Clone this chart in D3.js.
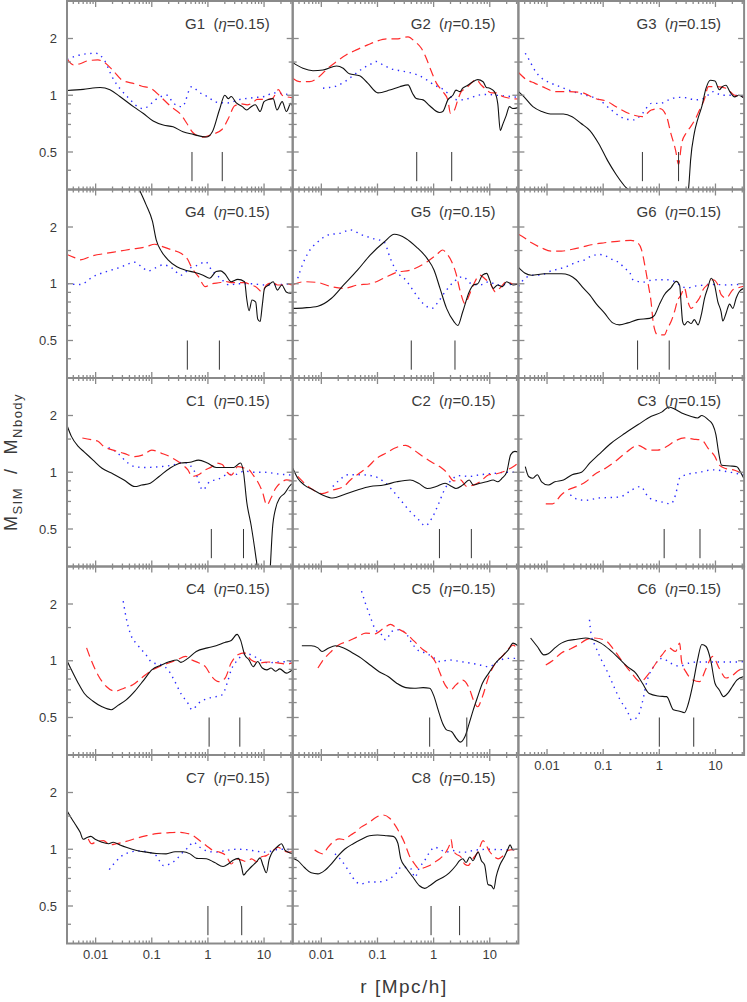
<!DOCTYPE html>
<html>
<head>
<meta charset="utf-8">
<script src="https://cdn.jsdelivr.net/npm/d3@7"></script>
<style>
  body { margin: 0; background: #fff; }
  svg { display: block; }
  text { font-family: "Liberation Sans", Arial, sans-serif; fill: #3a3a3a; }
</style>
</head>
<body>
<svg id="chart" width="747" height="1002"></svg>
<script>
// ---- data: [r (Mpc/h), M_SIM / M_Nbody] ----
const panelNames = ['G1', 'G2', 'G3', 'G4', 'G5', 'G6', 'C1', 'C2', 'C3', 'C4', 'C5', 'C6', 'C7', 'C8'];

// the two short vertical markers in each panel (r values)
const markerR = [[0.52, 1.8], [0.5, 2.1], [0.5, 2.2], [0.43, 1.6], [0.4, 2.4], [0.41, 1.5],
  [1.15, 4.3], [1.27, 4.7], [1.22, 5.3], [1.05, 3.7], [0.85, 3.9], [1.0, 4.1], [1.0, 4.0], [0.9, 2.9]];

const xTickLabels = [0.01, 0.1, 1, 10];
const yTickLabels = [0.5, 1, 2];
const yMinorTicks = [0.4, 0.6, 0.7, 0.8, 0.9, 1.5];

const g1Black = [[0.0031,1.06],[0.006,1.075],[0.012,1.10],[0.018,1.07],[0.027,0.985],[0.047,0.87],[0.071,0.80],[0.106,0.73],[0.16,0.695],[0.24,0.68],[0.36,0.64],[0.55,0.62],[0.94,0.60],[1.2,0.64],[1.6,0.835],[2.0,1.0],[2.3,0.96],[2.6,0.985],[3.2,0.91],[4.1,0.87],[4.9,0.835],[5.9,0.87],[7.0,0.89],[8.5,0.82],[10,0.925],[12,0.95],[14.5,0.96],[17,0.835],[21,0.925],[25,0.82],[30,0.905],[32,0.88]];
const g1Red = [[0.0031,1.56],[0.004,1.45],[0.0053,1.47],[0.007,1.52],[0.011,1.54],[0.014,1.50],[0.02,1.36],[0.03,1.20],[0.045,1.16],[0.065,1.12],[0.1,1.08],[0.14,0.99],[0.22,0.87],[0.33,0.79],[0.42,0.71],[0.55,0.63],[0.8,0.60],[1.2,0.62],[1.8,0.66],[2.3,0.75],[3,0.88],[4,0.9],[5,0.89],[6.5,0.92],[7.5,0.95],[10,0.95],[14,0.96],[18,1.07],[21,1.0],[26,0.98],[32,0.97]];
const g1Blue = [[0.0031,1.55],[0.0046,1.62],[0.007,1.66],[0.01,1.67],[0.014,1.55],[0.02,1.24],[0.037,0.98],[0.069,0.85],[0.14,0.98],[0.19,1.0],[0.24,0.91],[0.35,0.87],[0.51,1.11],[0.72,1.03],[1,0.98],[1.4,0.92],[2.2,0.91],[3.7,0.95],[6.3,0.97],[11,0.99],[14,1.03],[21,1.02],[32,1.0]];

const g2Black = [[0.0031,1.49],[0.0047,1.39],[0.0071,1.35],[0.0107,1.36],[0.0187,1.43],[0.0245,1.39],[0.0315,1.30],[0.048,1.27],[0.067,1.16],[0.102,1.03],[0.165,1.065],[0.25,1.11],[0.35,1.135],[0.42,1.025],[0.49,0.96],[0.65,0.945],[0.85,0.88],[1.27,0.81],[1.46,0.82],[1.79,0.945],[2.2,1.0],[2.5,1.065],[2.95,1.045],[3.3,1.09],[4.05,1.13],[5.0,1.18],[6.1,1.21],[7.6,1.18],[8.7,1.10],[10,1.09],[12.1,1.045],[13.9,0.9],[15.4,0.65],[17,0.70],[19.6,0.78],[22.4,0.87],[25.7,0.85],[32,0.86]];
const g2Red = [[0.0031,1.23],[0.0041,1.18],[0.0062,1.18],[0.0093,1.26],[0.013,1.39],[0.0187,1.51],[0.028,1.64],[0.042,1.74],[0.067,1.85],[0.095,1.93],[0.145,1.99],[0.215,1.99],[0.35,2.04],[0.46,1.93],[0.6,1.78],[0.74,1.57],[0.91,1.34],[1.12,1.16],[1.46,1.045],[1.79,0.945],[2.0,0.80],[2.35,0.835],[2.7,0.945],[3.1,1.045],[3.8,1.09],[4.7,1.16],[5.7,1.21],[7.1,1.13],[8.7,1.07],[10.7,1.03],[13.2,1.03],[17,0.985],[22.4,0.965],[32,0.955]];
const g2Blue = [[0.0107,1.09],[0.014,1.10],[0.0187,1.12],[0.026,1.18],[0.034,1.25],[0.042,1.31],[0.055,1.39],[0.072,1.45],[0.095,1.51],[0.125,1.45],[0.165,1.39],[0.25,1.35],[0.37,1.32],[0.52,1.28],[0.74,1.21],[1.04,1.13],[1.36,1.09],[1.79,1.025],[2.35,0.95],[3.1,0.945],[4.4,0.965],[6.1,1.0],[8.7,1.01],[13.2,1.0],[19.6,0.99],[32,0.975]];

const g3Black = [[0.0031,1.045],[0.0039,0.98],[0.0056,0.87],[0.008,0.82],[0.0115,0.795],[0.0195,0.795],[0.028,0.77],[0.04,0.71],[0.058,0.65],[0.083,0.555],[0.12,0.45],[0.17,0.38],[0.24,0.33],[0.32,0.30],[0.42,0.2],[3.0,0.2],[3.2,0.28],[3.4,0.35],[3.6,0.45],[4.2,0.63],[4.8,0.74],[5.7,0.87],[6.8,1.09],[8.1,1.2],[9.8,1.19],[11.7,1.07],[13.2,1.11],[15.4,1.13],[18,1.045],[22,0.98],[26,1.0],[32,0.965]];
const g3Red = [[0.0031,1.32],[0.0043,1.21],[0.006,1.16],[0.0095,1.09],[0.0138,1.045],[0.0235,1.045],[0.041,1.035],[0.069,0.965],[0.12,0.925],[0.17,0.87],[0.29,0.80],[0.50,0.77],[0.72,0.835],[1.03,0.85],[1.35,0.77],[1.6,0.63],[1.95,0.51],[2.2,0.43],[2.5,0.555],[3.0,0.63],[3.6,0.68],[4.3,0.74],[5.2,0.835],[6.3,0.945],[7.5,1.11],[10.7,1.11],[15.4,1.09],[22,1.0],[32,0.985]];
const g3Blue = [[0.0041,1.67],[0.0048,1.54],[0.0062,1.34],[0.0081,1.23],[0.0117,1.16],[0.017,1.11],[0.029,1.045],[0.05,1.0],[0.085,0.945],[0.14,0.835],[0.245,0.75],[0.35,0.74],[0.5,0.80],[0.72,0.905],[1.03,0.905],[1.48,0.945],[2.1,0.975],[3.0,0.97],[4.3,0.945],[6.3,0.965],[9.1,1.045],[13,1.0],[18.6,1.0],[32,0.99]];

const g4Black = [[0.045,3.8],[0.06,3.16],[0.079,2.63],[0.103,2.14],[0.12,1.71],[0.15,1.48],[0.195,1.34],[0.28,1.23],[0.40,1.18],[0.57,1.15],[0.82,1.11],[1.07,1.07],[1.4,1.16],[1.67,1.17],[2.0,1.13],[2.6,1.025],[3.4,1.055],[4.5,1.025],[4.9,0.835],[5.4,0.72],[6.1,0.82],[7.1,0.80],[7.7,0.65],[8.5,0.63],[9.3,0.77],[10.2,0.945],[12.1,0.985],[14.5,1.025],[17.3,0.925],[20.7,0.985],[24.8,0.905],[29.5,0.89],[32,0.9]];
const g4Red = [[0.0031,1.43],[0.0041,1.38],[0.0053,1.34],[0.009,1.41],[0.0155,1.45],[0.027,1.49],[0.046,1.53],[0.079,1.57],[0.113,1.62],[0.16,1.57],[0.23,1.51],[0.33,1.45],[0.44,1.34],[0.52,1.21],[0.68,1.09],[0.9,0.965],[1.17,1.0],[1.67,1.015],[2.0,1.03],[2.6,1.015],[3.4,1.015],[4.5,1.015],[5.9,0.985],[7.1,0.965],[9.3,0.905],[11,0.985],[14.5,1.015],[17.3,0.985],[20.7,0.985],[24.8,1.0],[32,0.985]];
const g4Blue = [[0.0031,1.0],[0.0053,0.99],[0.009,1.09],[0.0155,1.16],[0.027,1.22],[0.05,1.30],[0.066,1.23],[0.087,1.17],[0.113,1.21],[0.16,1.26],[0.23,1.21],[0.33,1.11],[0.48,1.21],[0.68,1.26],[0.9,1.31],[1.17,1.18],[1.67,1.07],[2.4,0.985],[3.4,1.0],[5.9,1.0],[10.2,0.985],[17.3,0.99],[32,1.0]];

const g5Black = [[0.0031,0.74],[0.005,0.745],[0.0087,0.76],[0.015,0.835],[0.025,0.985],[0.044,1.18],[0.074,1.42],[0.13,1.66],[0.20,1.83],[0.32,1.74],[0.49,1.57],[0.77,1.36],[1.02,1.18],[1.3,0.945],[1.7,0.74],[2.3,0.63],[2.7,0.60],[3.3,0.71],[4.3,0.905],[5.1,0.985],[6.1,1.0],[7.4,1.11],[8.8,1.135],[10,1.045],[11.5,0.945],[13.8,0.985],[16.6,0.965],[20,1.025],[26,0.985],[32,1.0]];
const g5Red = [[0.0031,0.99],[0.005,1.025],[0.0087,1.015],[0.015,0.965],[0.025,0.945],[0.044,0.985],[0.074,1.0],[0.13,1.07],[0.22,1.15],[0.38,1.18],[0.54,1.23],[0.77,1.31],[1.11,1.42],[1.45,1.51],[1.7,1.45],[2.1,1.31],[2.5,1.135],[3.0,0.905],[3.6,0.785],[4.3,0.87],[5.1,0.985],[6.7,1.11],[8,1.07],[10.5,0.985],[12.6,0.905],[15,0.945],[20,1.025],[26,1.0],[32,1.0]];
const g5Blue = [[0.0038,1.07],[0.0046,1.26],[0.006,1.48],[0.0087,1.67],[0.0136,1.82],[0.021,1.85],[0.033,1.93],[0.052,1.82],[0.082,1.74],[0.13,1.67],[0.17,1.36],[0.22,1.16],[0.32,1.045],[0.45,0.905],[0.65,0.785],[0.93,0.74],[1.2,0.80],[1.6,0.905],[2.3,1.025],[3.3,1.09],[4.7,1.0],[6.7,0.985],[9.6,1.025],[13.8,0.985],[20,0.99],[32,0.995]];

const g6Black = [[0.0031,1.22],[0.004,1.14],[0.0053,1.11],[0.0091,1.13],[0.018,1.13],[0.025,1.11],[0.033,1.05],[0.044,0.95],[0.058,0.87],[0.076,0.78],[0.105,0.70],[0.148,0.62],[0.195,0.605],[0.275,0.62],[0.41,0.645],[0.67,0.655],[0.82,0.68],[1.0,0.775],[1.23,0.875],[1.62,0.955],[2.0,1.03],[2.3,0.98],[2.45,0.775],[2.6,0.63],[2.8,0.605],[3.2,0.63],[3.7,0.615],[4.2,0.645],[4.9,0.605],[5.6,0.685],[6.4,0.84],[7.3,0.95],[8.4,1.07],[9.6,0.99],[11,0.805],[12.6,0.71],[13.5,0.635],[15.5,0.70],[17.8,0.78],[20.4,0.74],[23.4,0.84],[26.7,0.91],[32,0.945]];
const g6Red = [[0.0031,1.83],[0.004,1.75],[0.0053,1.65],[0.008,1.55],[0.0118,1.49],[0.018,1.49],[0.027,1.52],[0.041,1.56],[0.061,1.61],[0.105,1.65],[0.18,1.68],[0.31,1.70],[0.41,1.65],[0.48,1.52],[0.55,1.26],[0.62,1.03],[0.71,0.81],[0.79,0.605],[0.93,0.535],[1.23,0.535],[1.4,0.58],[1.62,0.63],[1.86,0.71],[2.1,0.81],[2.45,0.875],[2.8,0.95],[3.2,0.81],[3.7,0.74],[4.5,0.79],[5.2,0.84],[6.0,0.93],[7.3,0.99],[9.0,1.05],[11,0.99],[12.6,0.875],[15.5,0.84],[20.4,0.93],[25,0.95],[32,0.97]];
const g6Blue = [[0.0031,0.97],[0.004,1.065],[0.0057,1.11],[0.008,1.115],[0.0118,1.17],[0.0165,1.20],[0.0233,1.24],[0.033,1.30],[0.047,1.34],[0.061,1.40],[0.086,1.43],[0.113,1.40],[0.148,1.34],[0.195,1.29],[0.24,1.21],[0.30,1.14],[0.34,1.05],[0.41,1.03],[0.51,1.02],[0.67,1.04],[0.95,1.05],[1.32,1.05],[1.86,1.03],[2.45,0.97],[3.2,0.95],[4.2,0.97],[5.6,0.98],[7.3,0.99],[11,0.99],[16.6,0.985],[25,0.99],[32,0.99]];

const c1Black = [[0.0031,1.77],[0.0037,1.55],[0.0049,1.37],[0.0063,1.28],[0.009,1.16],[0.013,1.05],[0.0205,0.98],[0.032,0.91],[0.05,0.84],[0.066,0.855],[0.094,0.875],[0.135,0.95],[0.21,1.05],[0.33,1.12],[0.48,1.13],[0.68,1.16],[0.98,1.12],[1.4,1.06],[2.0,1.06],[2.9,1.06],[3.8,1.12],[4.3,1.0],[4.9,0.70],[5.9,0.52],[7.1,0.36],[7.7,0.30],[8.5,0.2],[11.7,0.2],[12.8,0.3],[14.1,0.5],[16,0.64],[19,0.73],[23,0.77],[29.5,0.855],[32,0.87]];
const c1Red = [[0.0058,1.52],[0.0083,1.49],[0.011,1.46],[0.014,1.37],[0.0205,1.31],[0.032,1.26],[0.05,1.21],[0.072,1.24],[0.10,1.31],[0.15,1.26],[0.21,1.21],[0.28,1.15],[0.36,1.09],[0.44,1.03],[0.52,0.95],[0.68,0.97],[0.9,1.03],[1.17,1.07],[1.4,1.12],[1.8,1.10],[2.2,1.0],[2.6,0.965],[3.4,1.07],[4.5,1.05],[5.4,1.03],[6.4,0.965],[7.7,0.89],[9.3,0.79],[11.2,0.67],[13.3,0.73],[16,0.82],[21,0.89],[25,0.91],[32,0.90]];
const c1Blue = [[0.017,1.35],[0.025,1.26],[0.035,1.14],[0.05,1.07],[0.079,1.06],[0.135,1.07],[0.23,1.09],[0.36,1.13],[0.48,1.09],[0.62,0.97],[0.81,0.805],[1.07,0.89],[1.55,0.92],[2.2,0.97],[3.2,0.975],[4.5,1.015],[6.4,1.0],[10.2,1.0],[17.3,0.98],[32,0.965]];

const c2Black = [[0.0031,1.05],[0.0038,0.93],[0.005,0.855],[0.0072,0.805],[0.0103,0.76],[0.016,0.73],[0.025,0.76],[0.044,0.805],[0.074,0.84],[0.13,0.855],[0.22,0.89],[0.38,0.91],[0.54,0.875],[0.77,0.82],[1.11,0.84],[1.6,0.875],[2.1,0.84],[2.5,0.82],[3.3,0.855],[4.3,0.91],[5.1,0.855],[6.7,0.875],[8.8,0.89],[11.5,0.91],[13.8,0.89],[16.6,0.93],[20,1.0],[23.6,1.24],[28,1.29],[32,1.28]];
const c2Red = [[0.0038,0.95],[0.005,0.875],[0.0072,0.805],[0.0103,0.77],[0.016,0.805],[0.025,0.84],[0.033,0.91],[0.048,0.99],[0.068,1.07],[0.098,1.19],[0.14,1.26],[0.20,1.34],[0.32,1.39],[0.45,1.31],[0.65,1.21],[0.93,1.13],[1.3,1.07],[1.7,1.0],[2.3,0.90],[3.0,0.91],[3.9,0.84],[5.1,0.855],[6.7,0.89],[9.6,0.97],[13.8,0.985],[20,1.025],[26,1.07],[32,1.12]];
const c2Blue = [[0.016,0.84],[0.021,0.91],[0.03,0.97],[0.052,0.97],[0.089,0.95],[0.13,0.89],[0.18,0.81],[0.26,0.71],[0.38,0.62],[0.54,0.56],[0.71,0.52],[0.93,0.57],[1.2,0.67],[1.6,0.82],[2.1,0.91],[2.7,0.96],[4.3,0.95],[6.7,0.97],[11.5,0.985],[20,1.0],[32,1.0]];

const c3Black = [[0.0041,1.07],[0.0047,0.95],[0.0056,0.93],[0.0067,0.97],[0.008,0.89],[0.0105,0.855],[0.0138,0.89],[0.0196,0.91],[0.028,0.97],[0.041,1.0],[0.058,1.12],[0.083,1.24],[0.14,1.43],[0.245,1.61],[0.42,1.79],[0.72,1.98],[1.12,2.09],[1.48,2.22],[1.95,2.15],[2.5,2.06],[3.6,1.98],[4.8,1.94],[5.7,2.0],[7.4,1.90],[8.9,1.79],[10.2,1.58],[11.3,1.29],[12.9,1.09],[18.3,1.08],[24,1.07],[28.8,0.985],[32,0.93]];
const c3Red = [[0.0095,0.68],[0.0125,0.68],[0.018,0.76],[0.0235,0.805],[0.034,0.84],[0.049,0.89],[0.069,0.97],[0.11,1.05],[0.17,1.15],[0.27,1.29],[0.42,1.39],[0.65,1.31],[0.93,1.31],[1.35,1.37],[1.95,1.47],[2.8,1.52],[4.0,1.50],[5.7,1.48],[7.4,1.34],[9.8,1.21],[11.7,1.09],[15.4,1.045],[22,1.025],[32,0.97]];
const c3Blue = [[0.026,0.76],[0.034,0.72],[0.049,0.71],[0.083,0.73],[0.14,0.735],[0.20,0.74],[0.32,0.805],[0.46,0.84],[0.66,0.73],[1.03,0.70],[1.6,0.68],[1.95,0.76],[2.3,0.93],[3.0,0.97],[5.2,1.0],[8.9,1.03],[15.4,1.01],[22,0.99],[32,0.97]];

const c4Black = [[0.0031,1.0],[0.0037,0.895],[0.0049,0.76],[0.0063,0.67],[0.009,0.61],[0.013,0.57],[0.019,0.55],[0.025,0.58],[0.035,0.62],[0.05,0.69],[0.072,0.79],[0.10,0.895],[0.15,0.95],[0.21,0.99],[0.28,1.01],[0.33,0.98],[0.44,1.03],[0.62,1.12],[0.98,1.17],[1.4,1.20],[2.0,1.25],[2.6,1.28],[3.3,1.38],[3.8,1.29],[4.5,1.08],[5.4,1.01],[6.4,0.93],[7.7,0.99],[9.3,0.915],[11.2,0.895],[13.3,0.915],[16,0.88],[19,0.905],[25,0.86],[32,0.895]];
const c4Red = [[0.0069,1.17],[0.0083,1.01],[0.011,0.84],[0.0155,0.73],[0.022,0.69],[0.032,0.715],[0.046,0.745],[0.066,0.81],[0.094,0.88],[0.135,0.93],[0.195,0.97],[0.28,1.01],[0.40,1.055],[0.52,1.01],[0.68,0.975],[0.9,0.93],[1.17,0.825],[1.55,0.775],[2.0,0.805],[2.6,0.975],[3.4,1.075],[4.5,1.10],[5.9,1.01],[8.5,0.975],[12,0.985],[17.3,0.975],[25,0.96],[32,0.975]];
const c4Blue = [[0.031,2.07],[0.035,1.69],[0.042,1.38],[0.055,1.22],[0.079,1.075],[0.10,0.98],[0.15,0.95],[0.195,0.895],[0.25,0.79],[0.33,0.67],[0.44,0.595],[0.52,0.55],[0.68,0.595],[0.98,0.63],[1.4,0.645],[1.8,0.66],[2.2,0.76],[2.6,0.895],[3.4,1.01],[4.5,1.09],[5.9,1.075],[8.5,1.01],[12,0.975],[17.3,0.985],[32,0.99]];

const c5Black = [[0.0045,1.20],[0.0066,1.20],[0.0087,1.17],[0.0103,1.12],[0.0136,1.17],[0.0177,1.20],[0.025,1.17],[0.036,1.10],[0.052,1.03],[0.074,0.95],[0.107,0.875],[0.155,0.825],[0.22,0.76],[0.32,0.72],[0.45,0.715],[0.65,0.72],[0.85,0.715],[1.02,0.645],[1.2,0.55],[1.45,0.465],[1.7,0.43],[2.1,0.42],[2.5,0.39],[3.0,0.37],[3.6,0.395],[4.3,0.465],[5.1,0.55],[6.1,0.645],[7.4,0.76],[9.6,0.86],[12.6,0.97],[16.6,1.055],[21.6,1.145],[26,1.24],[32,1.20]];
const c5Red = [[0.0087,0.915],[0.0103,0.99],[0.015,1.12],[0.021,1.22],[0.03,1.27],[0.044,1.34],[0.062,1.40],[0.089,1.39],[0.13,1.49],[0.17,1.56],[0.22,1.49],[0.32,1.40],[0.45,1.27],[0.65,1.145],[0.85,1.08],[1.11,0.97],[1.3,0.86],[1.6,0.745],[2.0,0.70],[2.5,0.745],[3.3,0.79],[4.3,0.715],[5.1,0.62],[6.1,0.57],[7.4,0.645],[9.6,0.825],[12.6,0.97],[16.6,1.055],[21.6,1.16],[26,1.21],[32,1.14]];
const c5Blue = [[0.052,2.34],[0.062,1.99],[0.074,1.72],[0.089,1.49],[0.117,1.38],[0.14,1.29],[0.18,1.43],[0.24,1.46],[0.32,1.40],[0.41,1.24],[0.54,1.13],[0.71,1.10],[0.93,1.055],[1.3,0.99],[1.9,1.01],[3.0,0.99],[4.7,0.97],[6.7,0.95],[9.6,0.93],[13.8,0.99],[20,1.03],[28,1.03],[32,1.03]];

const c6Black = [[0.0051,1.32],[0.0067,1.19],[0.0088,1.075],[0.0105,1.09],[0.0138,1.17],[0.018,1.24],[0.0235,1.28],[0.034,1.30],[0.049,1.32],[0.063,1.30],[0.091,1.24],[0.13,1.145],[0.19,1.03],[0.27,0.93],[0.38,0.86],[0.50,0.76],[0.66,0.67],[0.95,0.65],[1.35,0.645],[1.78,0.55],[2.3,0.54],[2.8,0.53],[3.3,0.595],[4.0,0.76],[4.8,1.01],[5.7,1.22],[6.8,1.19],[8.2,1.01],[9.8,0.76],[11.7,0.70],[14,0.645],[16.8,0.675],[20,0.73],[24,0.79],[32,0.825]];
const c6Red = [[0.0095,0.95],[0.0125,1.0],[0.018,1.10],[0.026,1.155],[0.037,1.22],[0.049,1.29],[0.069,1.32],[0.11,1.28],[0.155,1.145],[0.22,0.99],[0.32,0.86],[0.46,0.775],[0.66,0.86],[0.87,0.97],[1.12,1.075],[1.48,1.17],[1.95,1.12],[2.3,1.24],[2.5,0.985],[3.0,0.87],[4.0,0.79],[5.2,0.775],[6.8,0.91],[8.9,1.055],[11.7,0.91],[15.4,0.81],[20,0.835],[26,0.89],[32,0.905]];
const c6Blue = [[0.057,1.65],[0.061,1.38],[0.073,1.19],[0.093,1.01],[0.122,0.86],[0.155,0.73],[0.20,0.62],[0.27,0.54],[0.32,0.485],[0.41,0.505],[0.49,0.59],[0.61,0.79],[0.8,0.935],[1.12,1.03],[1.6,0.97],[2.3,0.935],[3.3,0.97],[4.8,0.985],[7.4,0.985],[13,0.985],[22,0.985],[32,0.99]];

const c7Black = [[0.0031,1.6],[0.0035,1.50],[0.0043,1.36],[0.0053,1.23],[0.006,1.13],[0.0069,1.15],[0.0082,1.17],[0.0098,1.13],[0.0129,1.09],[0.017,1.07],[0.0205,1.09],[0.027,1.055],[0.035,1.025],[0.054,0.985],[0.081,0.965],[0.12,0.95],[0.18,0.945],[0.26,0.97],[0.36,0.97],[0.48,0.945],[0.63,0.895],[0.94,0.89],[1.32,0.85],[1.86,0.81],[2.3,0.835],[2.8,0.875],[3.5,0.895],[4.0,0.80],[4.3,0.73],[4.9,0.76],[6.0,0.81],[7.4,0.86],[8.5,0.90],[9.6,0.82],[11,0.75],[12.3,0.88],[13.5,0.945],[15.5,1.0],[17.8,1.04],[20.4,1.07],[23.5,0.99],[27,0.965],[32,0.95]];
const c7Red = [[0.0074,1.135],[0.0085,1.07],[0.0105,1.10],[0.0138,1.11],[0.018,1.055],[0.0235,1.07],[0.035,1.10],[0.054,1.145],[0.081,1.18],[0.12,1.21],[0.18,1.22],[0.28,1.23],[0.39,1.22],[0.55,1.18],[0.72,1.11],[0.94,1.045],[1.23,0.985],[1.6,0.965],[2.1,0.925],[2.6,0.835],[3.2,0.89],[4.0,0.875],[4.9,0.86],[6.0,0.89],[7.4,0.86],[8.9,0.91],[11,0.925],[14.5,0.985],[17.8,1.025],[22,0.985],[27,0.965],[32,0.97]];
const c7Blue = [[0.0175,0.78],[0.022,0.85],[0.029,0.92],[0.041,0.965],[0.061,0.98],[0.087,0.965],[0.12,0.925],[0.16,0.82],[0.21,0.835],[0.28,0.89],[0.36,0.965],[0.45,1.025],[0.55,1.09],[0.72,1.025],[1.0,0.975],[1.4,0.965],[2.1,0.985],[3.2,1.0],[4.9,0.995],[7.4,0.975],[11,0.965],[14.5,0.985],[19,1.0],[32,0.995]];

const c8Black = [[0.0031,0.895],[0.0038,0.87],[0.005,0.80],[0.0066,0.75],[0.0087,0.74],[0.0114,0.77],[0.015,0.835],[0.02,0.925],[0.026,1.0],[0.037,1.07],[0.051,1.125],[0.072,1.18],[0.10,1.19],[0.145,1.18],[0.19,1.17],[0.23,1.08],[0.26,0.89],[0.32,0.80],[0.43,0.71],[0.56,0.64],[0.69,0.62],[0.85,0.64],[1.12,0.68],[1.48,0.71],[1.9,0.75],[2.5,0.82],[2.9,0.87],[3.3,0.89],[3.8,0.85],[4.4,0.91],[5.0,0.87],[6.2,0.965],[7.1,0.87],[8.1,0.825],[9.3,0.65],[10.7,0.64],[11.8,0.615],[13,0.715],[15,0.82],[18.3,0.915],[21,1.0],[23,1.055],[25.7,0.995],[29.5,1.0],[32,1.0]];
const c8Red = [[0.0076,0.99],[0.0107,0.945],[0.013,1.02],[0.016,1.09],[0.021,1.135],[0.026,1.125],[0.032,1.18],[0.04,1.23],[0.051,1.31],[0.072,1.39],[0.095,1.48],[0.126,1.52],[0.165,1.46],[0.20,1.36],[0.245,1.23],[0.30,1.09],[0.37,0.925],[0.46,0.835],[0.56,0.785],[0.69,0.80],[0.85,0.82],[1.05,0.855],[1.29,0.89],[1.67,0.97],[1.9,1.045],[2.05,1.125],[2.2,0.99],[2.5,0.945],[3.1,0.905],[3.55,0.835],[4.1,0.82],[5.0,0.89],[6.2,0.97],[7.6,1.11],[8.7,1.045],[10,0.97],[11.5,0.925],[14.1,0.89],[17.4,0.925],[21,0.985],[25.7,0.995],[32,0.985]];
const c8Blue = [[0.0175,0.945],[0.023,0.87],[0.028,0.80],[0.035,0.72],[0.042,0.67],[0.051,0.655],[0.068,0.67],[0.095,0.67],[0.135,0.68],[0.18,0.71],[0.22,0.75],[0.26,0.80],[0.32,0.80],[0.40,0.785],[0.46,0.71],[0.56,0.80],[0.69,0.87],[0.85,0.965],[1.05,1.025],[1.29,1.0],[1.67,0.965],[2.2,0.985],[2.9,0.965],[3.8,0.965],[5.0,0.985],[6.6,0.995],[10,1.0],[15,0.995],[22,0.995],[32,1.0]];

const blackSeries = [g1Black, g2Black, g3Black, g4Black, g5Black, g6Black, c1Black, c2Black, c3Black, c4Black, c5Black, c6Black, c7Black, c8Black];
const redSeries = [g1Red, g2Red, g3Red, g4Red, g5Red, g6Red, c1Red, c2Red, c3Red, c4Red, c5Red, c6Red, c7Red, c8Red];
const blueSeries = [g1Blue, g2Blue, g3Blue, g4Blue, g5Blue, g6Blue, c1Blue, c2Blue, c3Blue, c4Blue, c5Blue, c6Blue, c7Blue, c8Blue];

// ---- layout ----
const left0 = 67, top0 = 1;
const pw = 225.7, ph = 188.5;
const frameColor = '#8a8a8a';

const x = d3.scaleLog().domain([Math.pow(10, -2.51), Math.pow(10, 1.51)]).range([0, pw]);
const y = d3.scaleLog().domain([Math.pow(10, -0.5), Math.pow(10, 0.5)]).range([ph, 0]);

const svg = d3.select('#chart');

const line = d3.line()
  .x(d => x(d[0]))
  .y(d => y(d[1]))
  .curve(d3.curveMonotoneX);

const styles = [
  { data: blueSeries, color: '#2a2aff', width: 1.4, dash: '1.4,4.6' },
  { data: redSeries, color: '#ff2a2a', width: 1.2, dash: '9,5' },
  { data: blackSeries, color: '#111', width: 1.1, dash: null }
];

panelNames.forEach((name, i) => {
  const col = i % 3, row = Math.floor(i / 3);
  const g = svg.append('g')
    .attr('transform', `translate(${left0 + col * pw},${top0 + row * ph})`);

  svg.append('clipPath').attr('id', 'clip' + i)
    .append('rect').attr('width', pw).attr('height', ph);

  const plot = g.append('g').attr('clip-path', `url(#clip${i})`);

  styles.forEach(s => {
    plot.append('path')
      .datum(s.data[i])
      .attr('d', line)
      .attr('fill', 'none')
      .attr('stroke', s.color)
      .attr('stroke-width', s.width)
      .attr('stroke-dasharray', s.dash)
      .attr('stroke-linejoin', 'round');
  });

  // short vertical markers
  g.selectAll('.marker')
    .data(markerR[i])
    .join('line')
    .attr('x1', d => x(d)).attr('x2', d => x(d))
    .attr('y1', y(0.35)).attr('y2', y(0.5))
    .attr('stroke', '#333').attr('stroke-width', 1);

  // ticks on all four sides, pointing inward
  const xt = x.ticks();
  xt.forEach(t => {
    const major = Math.abs(Math.log10(t) - Math.round(Math.log10(t))) < 1e-6;
    const len = major ? 6 : 3;
    g.append('line').attr('x1', x(t)).attr('x2', x(t)).attr('y1', ph).attr('y2', ph - len)
      .attr('stroke', frameColor).attr('stroke-width', 1.3);
    g.append('line').attr('x1', x(t)).attr('x2', x(t)).attr('y1', 0).attr('y2', len)
      .attr('stroke', frameColor).attr('stroke-width', 1.3);
  });
  yTickLabels.concat(yMinorTicks).forEach(t => {
    const len = yTickLabels.includes(t) ? 6 : 4;
    g.append('line').attr('x1', 0).attr('x2', len).attr('y1', y(t)).attr('y2', y(t))
      .attr('stroke', frameColor).attr('stroke-width', 1.3);
    g.append('line').attr('x1', pw).attr('x2', pw - len).attr('y1', y(t)).attr('y2', y(t))
      .attr('stroke', frameColor).attr('stroke-width', 1.3);
  });

  g.append('rect')
    .attr('width', pw).attr('height', ph)
    .attr('fill', 'none')
    .attr('stroke', frameColor)
    .attr('stroke-width', 2);

  // panel title
  const title = g.append('text')
    .attr('x', pw - 23).attr('y', 27.5)
    .attr('text-anchor', 'end')
    .style('font-size', '15px');
  title.append('tspan').text(name + '\u00a0\u00a0(');
  title.append('tspan').style('font-style', 'italic').text('\u03b7');
  title.append('tspan').text('=0.15)');

  if (col === 0) {
    g.selectAll('.ylab')
      .data(yTickLabels)
      .join('text')
      .attr('x', -10).attr('y', d => y(d))
      .attr('dy', '0.36em')
      .attr('text-anchor', 'end')
      .style('font-size', '13px')
      .text(d => d);
  }
  if (i + 3 >= panelNames.length) {
    g.selectAll('.xlab')
      .data(xTickLabels)
      .join('text')
      .attr('x', d => x(d)).attr('y', ph + 15)
      .attr('text-anchor', 'middle')
      .style('font-size', '13px')
      .text(d => d);
  }
});

// axis titles
svg.append('text')
  .attr('x', 404).attr('y', 993)
  .attr('text-anchor', 'middle')
  .style('font-size', '19px')
  .style('letter-spacing', '1.5px')
  .style('white-space', 'pre')
  .text('r [Mpc/h]');

const yTitle = svg.append('text')
  .attr('transform', 'translate(17,462) rotate(-90)')
  .attr('text-anchor', 'middle')
  .style('font-size', '18px')
  .style('letter-spacing', '1.5px')
  .style('white-space', 'pre');
yTitle.append('tspan').text('M');
yTitle.append('tspan').attr('dy', 5).style('font-size', '13px').text('SIM');
yTitle.append('tspan').attr('dy', -5).text('  /  M');
yTitle.append('tspan').attr('dy', 5).style('font-size', '13px').text('Nbody');
</script>
</body>
</html>
